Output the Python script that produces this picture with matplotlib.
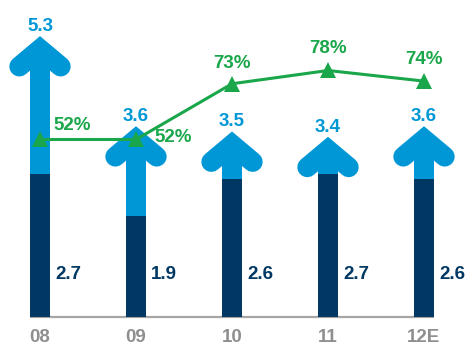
import numpy as np
import matplotlib
matplotlib.use("Agg")
import matplotlib.pyplot as plt

# ---- data ----
years = ["08", "09", "10", "11", "12E"]
totals = [5.3, 3.6, 3.5, 3.4, 3.6]
base = [2.7, 1.9, 2.6, 2.7, 2.6]
pct = [52, 52, 73, 78, 74]

LIGHT = "#0097D7"
DARK = "#003863"
GREEN = "#1AA64A"
GRAY_AX = "#A6A6A6"
GRAY_TXT = "#8F8F8F"
FONT = "Liberation Sans"

W, H = 467, 345
fig = plt.figure(figsize=(W / 100, H / 100), dpi=100)
ax = fig.add_axes([0, 28 / H, 1, 1 - 28 / H])
x = np.arange(len(years))
ax.set_xlim(-40 / 96, (W - 40) / 96)
ax.set_ylim(0, (H - 28) / 53)
for s in ax.spines.values():
    s.set_visible(False)
ax.set_yticks([])
ax.set_xticks(x, years)
ax.tick_params(axis="x", length=0, pad=9, labelcolor=GRAY_TXT, labelsize=13.5)
for lab in ax.get_xticklabels():
    lab.set_fontfamily(FONT)
    lab.set_fontweight("bold")

bw = 20 / 96
ppu = 53.0  # pixels per unit (y)

# axis line
ax.plot([x[0] - bw / 2, x[-1] + bw / 2], [0, 0], color=GRAY_AX, lw=1.6,
        solid_capstyle="butt", zorder=1, clip_on=False)

fig.canvas.draw()
tr = ax.transData
inv = tr.inverted()

theta = np.deg2rad(40)
half = 10.0
miter = half / np.cos(theta)
L = 27.0
lw_pt = 20 * 72 / 100

for xi, t, b in zip(x, totals, base):
    tip = tr.transform((xi, t))
    apex = tip - np.array([0, miter])
    left = apex + np.array([-L * np.cos(theta), -L * np.sin(theta)])
    right = apex + np.array([L * np.cos(theta), -L * np.sin(theta)])
    pts = inv.transform(np.vstack([left, apex, right]))
    apex_y = pts[1, 1]
    # shaft
    ax.bar(xi, apex_y - b, bottom=b, width=bw, color=LIGHT, zorder=2, linewidth=0)
    ax.plot(pts[:, 0], pts[:, 1], color=LIGHT, lw=lw_pt, solid_joinstyle="miter",
            solid_capstyle="round", zorder=2)
    ax.bar(xi, b, width=bw, color=DARK, zorder=3, linewidth=0)
    ax.annotate(f"{t:.1f}", (xi, t), xytext=(0, 5), textcoords="offset pixels",
                ha="center", va="baseline", color=LIGHT, fontsize=13.5,
                fontweight="bold", fontfamily=FONT, zorder=6)
    ax.text(xi + 15 / 96, 38 / ppu, f"{b:.1f}", ha="left", va="baseline",
            color=DARK, fontsize=13.5, fontweight="bold", fontfamily=FONT, zorder=6)

# percentage line on secondary axis
ax2 = ax.twinx()
ax2.set_ylim(-14.88, 104.56)
ax2.set_axis_off()
ax2.plot(x, pct, color=GREEN, lw=2.2, marker="^", markersize=11,
         markeredgewidth=0, zorder=5)

offsets = [(13, 9, "left"), (18, -3, "left"), (0, 16, "center"),
           (0, 17, "center"), (0, 17, "center")]
for xi, p, (dx, dy, ha) in zip(x, pct, offsets):
    ax2.annotate(f"{p}%", (xi, p), xytext=(dx, dy), textcoords="offset pixels",
                 ha=ha, va="baseline", color=GREEN, fontsize=13.5,
                 fontweight="bold", fontfamily=FONT, zorder=6)

fig.savefig("out.png", dpi=100)
